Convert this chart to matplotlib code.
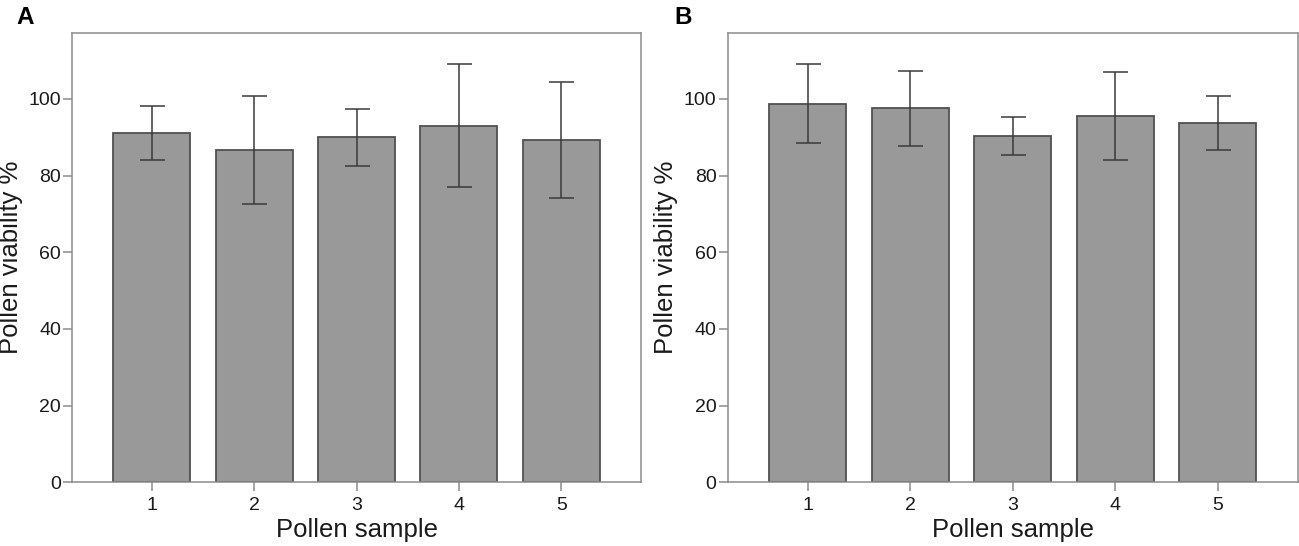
import numpy as np
import matplotlib.pyplot as plt

plt.rcParams['font.family'] = ['Liberation Sans', 'DejaVu Sans']

samples = [1, 2, 3, 4, 5]
sample_labels = ['1', '2', '3', '4', '5']

# panel A: mean viability and SD
mean_a = [91.2, 86.7, 90.0, 93.0, 89.3]
sd_a = [7.0, 14.0, 7.5, 16.0, 15.1]

# panel B
mean_b = [98.8, 97.6, 90.4, 95.6, 93.7]
sd_b = [10.2, 9.8, 5.0, 11.5, 7.1]

W, H = 1299, 546
fig = plt.figure(figsize=(W / 100, H / 100), dpi=100)

def panel(rect, means, sds, letter, letter_x):
    ax = fig.add_axes(rect)
    ax.bar(samples, means, width=0.75, color='#999999', edgecolor='#505050',
           linewidth=1.3, zorder=2)
    ax.errorbar(samples, means, yerr=sds, fmt='none', ecolor='#3a3a3a',
                elinewidth=1.1, capsize=9, capthick=1.1, zorder=3)
    ax.set_xlim(0.22, 5.78)
    ax.set_ylim(0, 117.2)
    ax.set_yticks([0, 20, 40, 60, 80, 100])
    ax.set_xticks(samples)
    ax.set_xticklabels(sample_labels)
    for s in ax.spines.values():
        s.set_color('#8c8c8c')
        s.set_linewidth(1.1)
    ax.tick_params(direction='out', length=6.5, width=1.1, color='#8c8c8c',
                   labelsize=14, labelcolor='#1a1a1a')
    ax.tick_params(axis='x', pad=4)
    ax.tick_params(axis='y', pad=1.5)
    ax.set_xlabel('Pollen sample', fontsize=18.5, color='#1a1a1a', labelpad=3)
    ax.set_ylabel('Pollen viability %', fontsize=18.5, color='#1a1a1a', labelpad=4)
    fig.text(letter_x / W, 1 - 24.5 / H, letter, fontsize=17.5, fontweight='bold',
             ha='left', va='baseline')
    return ax

bottom = 1 - 482.3 / H
height = (482.3 - 33) / H
panel([72 / W, bottom, 569 / W, height], mean_a, sd_a, 'A', 16)
panel([727.7 / W, bottom, 570 / W, height], mean_b, sd_b, 'B', 674)

fig.savefig('out.png', dpi=100)
